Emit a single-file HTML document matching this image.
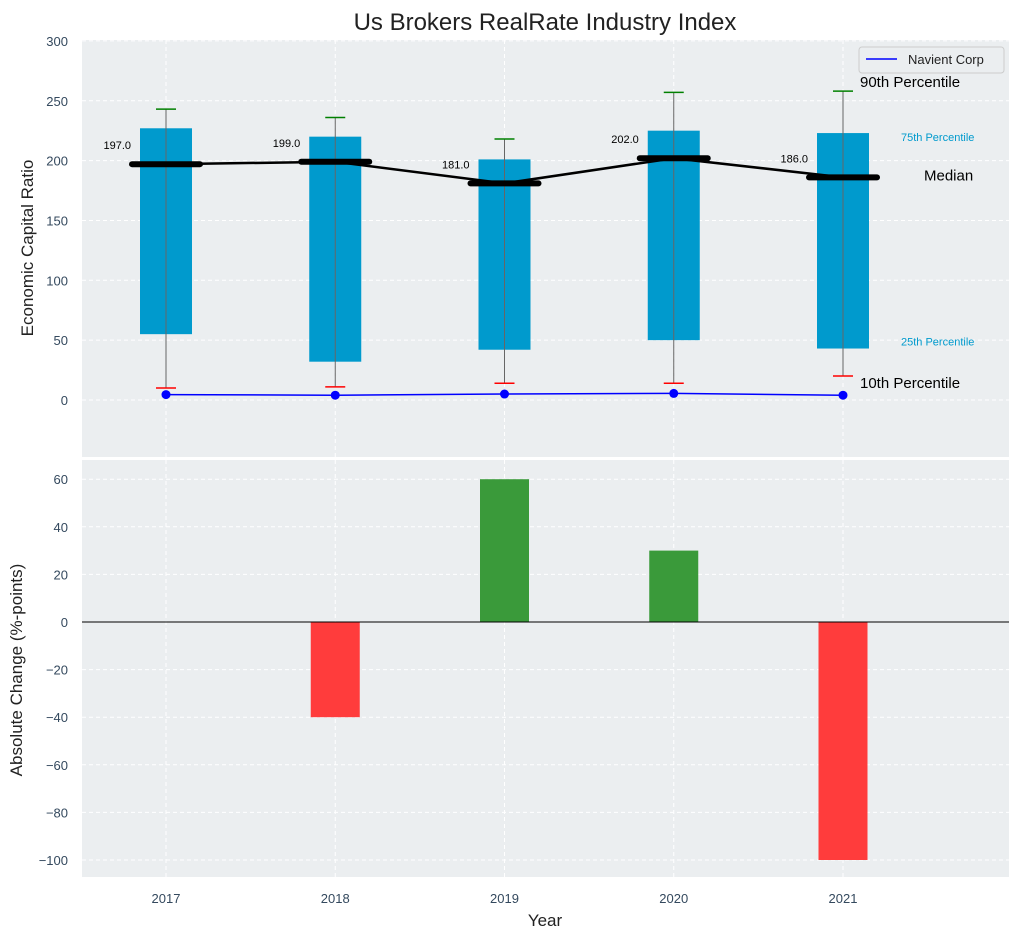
<!DOCTYPE html>
<html><head><meta charset="utf-8"><style>
body{margin:0;background:#fff;font-family:"Liberation Sans",sans-serif}
svg text{font-family:"Liberation Sans","DejaVu Sans",sans-serif}
</style></head><body>
<svg id="c" width="1021" height="940" xmlns="http://www.w3.org/2000/svg"></svg>
<script>
const years=[2017,2018,2019,2020,2021];
const p10=[10,11,14,14,20];
const p25=[55,32,42,50,43];
const medians=[197,199,181,202,186];
const p75=[227,220,201,225,223];
const p90=[243,236,218,257,258];
const navient=[4.5,4,5,5.5,4];
const changes=[0,-40,60,30,-100];
const topTicks=[0,50,100,150,200,250,300];
const botTicks=[-100,-80,-60,-40,-20,0,20,40,60];

const svg=document.getElementById('c');
const NS='http://www.w3.org/2000/svg';
function el(tag,attrs,parent){const e=document.createElementNS(NS,tag);for(const k in attrs)e.setAttribute(k,attrs[k]);(parent||svg).appendChild(e);return e;}
const L=82,R=1009;
const x=v=>166+(v-2017)*169.25;
const T0=40,T1=457; const yT=v=>400-v*1.197;
const B0=460,B1=877; const yB=v=>622-v*2.38;
const TC='#34495e';

let bg=el('rect',{x:L,y:T0,width:R-L,height:T1-T0,fill:'#ebeef0'});

let bg2=el('rect',{x:L,y:B0,width:R-L,height:B1-B0,fill:'#ebeef0'});


const g=el('g',{stroke:'#fff','stroke-dasharray':'4,3','stroke-width':1});

topTicks.forEach(t=>{el('line',{x1:L,x2:R,y1:yT(t),y2:yT(t)},g);});
botTicks.forEach(t=>{el('line',{x1:L,x2:R,y1:yB(t),y2:yB(t)},g);});
years.forEach(yr=>{el('line',{x1:x(yr),x2:x(yr),y1:T0,y2:T1},g);el('line',{x1:x(yr),x2:x(yr),y1:B0,y2:B1},g);});

topTicks.forEach(t=>{const e=el('text',{x:68,y:yT(t)+5,'text-anchor':'end','font-size':13,fill:TC});e.textContent=t;
});
botTicks.forEach(t=>{const e=el('text',{x:68,y:yB(t)+5,'text-anchor':'end','font-size':13,fill:TC});e.textContent=(t<0?'\u2212'+(-t):t);
});
years.forEach(yr=>{const e=el('text',{x:x(yr),y:903,'text-anchor':'middle','font-size':13,fill:TC});e.textContent=yr;
});

const bw=52;
years.forEach((yr,i)=>{
 const cx=x(yr);
 const r=el('rect',{x:cx-bw/2,y:yT(p75[i]),width:bw,height:yT(p25[i])-yT(p75[i]),fill:'#009acd'});
 
 const w=el('line',{x1:cx,x2:cx,y1:yT(p90[i]),y2:yT(p10[i]),stroke:'#666','stroke-width':1});
 
 const a=el('line',{x1:cx-10,x2:cx+10,y1:yT(p90[i]),y2:yT(p90[i]),stroke:'green','stroke-width':1.5});
 
 const b=el('line',{x1:cx-10,x2:cx+10,y1:yT(p10[i]),y2:yT(p10[i]),stroke:'red','stroke-width':1.5});
 
});
const ml=el('polyline',{points:years.map((yr,i)=>x(yr)+','+yT(medians[i])).join(' '),fill:'none',stroke:'#000','stroke-width':2.5});

years.forEach((yr,i)=>{
 const m=el('line',{x1:x(yr)-34,x2:x(yr)+34,y1:yT(medians[i]),y2:yT(medians[i]),stroke:'#000','stroke-width':6,'stroke-linecap':'round'});
 
 const t=el('text',{x:x(yr)-35,y:yT(medians[i])-15,'text-anchor':'end','font-size':11,fill:'#000'});t.textContent=medians[i].toFixed(1);
 
});
const nl=el('polyline',{points:years.map((yr,i)=>x(yr)+','+yT(navient[i])).join(' '),fill:'none',stroke:'blue','stroke-width':1.5});

years.forEach((yr,i)=>{const c=el('circle',{cx:x(yr),cy:yT(navient[i]),r:4.5,fill:'blue'});
});

const lastX=x(2021);
[['90th Percentile',lastX+17,yT(p90[4])-4,15,'#000'],['75th Percentile',lastX+58,yT(p75[4])+8,11,'#009acd'],
 ['Median',lastX+81,yT(medians[4])+3,15,'#000'],['25th Percentile',lastX+58,yT(p25[4])-3,11,'#009acd'],
 ['10th Percentile',lastX+17,yT(p10[4])+12,15,'#000']].forEach(a=>{
 const t=el('text',{x:a[1],y:a[2],'font-size':a[3],fill:a[4]});t.textContent=a[0];
 });

const lg=el('g',{});
el('rect',{x:859,y:47,width:145,height:26,rx:3,fill:'#ebeef0',stroke:'#ccc'},lg);
el('line',{x1:866,x2:897,y1:59,y2:59,stroke:'blue','stroke-width':1.5},lg);
const lt=el('text',{x:908,y:64,'font-size':13,fill:'#222'},lg);lt.textContent='Navient Corp';

const cbw=49;
years.forEach((yr,i)=>{
 const v=changes[i];
 const r=el('rect',{x:x(yr)-cbw/2,y:Math.min(yB(v),yB(0)),width:cbw,height:Math.abs(yB(v)-yB(0)),fill:v>=0?'#3a9a3a':'#ff3c3c'});
 
});
const z=el('line',{x1:L,x2:R,y1:yB(0),y2:yB(0),stroke:'#000','stroke-width':1});


const tt=el('text',{x:545,y:30,'text-anchor':'middle','font-size':24,fill:'#222'});tt.textContent='Us Brokers RealRate Industry Index';

const y1=el('text',{x:0,y:0,'text-anchor':'middle','font-size':17,fill:'#222',transform:'translate(33,248) rotate(-90)'});y1.textContent='Economic Capital Ratio';

const y2=el('text',{x:0,y:0,'text-anchor':'middle','font-size':17,fill:'#222',transform:'translate(22,670) rotate(-90)'});y2.textContent='Absolute Change (%-points)';

const xt=el('text',{x:545,y:926,'text-anchor':'middle','font-size':17,fill:'#222'});xt.textContent='Year';

</script>
</body></html>
